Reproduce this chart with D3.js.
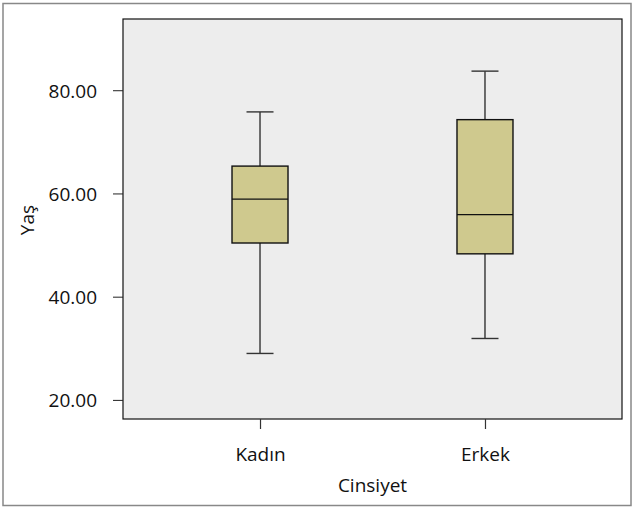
<!DOCTYPE html>
<html><head><meta charset="utf-8">
<script src="https://cdn.jsdelivr.net/npm/d3@7/dist/d3.min.js"></script>
<style>body{margin:0;background:#fff}svg{display:block}text{font-family:"Open Sans","Noto Sans",sans-serif;fill:#111}</style>
</head><body><svg id="c" width="633" height="508"></svg>
<script>
const categories = ["Kadın", "Erkek"];
const mins = [29.0, 31.9];
const q1s = [50.4, 48.3];
const medians = [58.9, 55.9];
const q3s = [65.3, 74.3];
const maxs = [75.8, 83.7];
const yTicks = [20, 40, 60, 80];
const yLabel = "Yaş";
const xLabel = "Cinsiyet";

const svg = d3.select("#c");
const L = 123, R = 622, T = 19, B = 419;
const fs = "19px";
svg.append("rect").attr("x", 3).attr("y", 3.5).attr("width", 628).attr("height", 502)
  .attr("fill", "#fff").attr("stroke", "#888").attr("stroke-width", 1.5);
svg.append("rect").attr("x", L).attr("y", T).attr("width", R - L).attr("height", B - T)
  .attr("fill", "#ededed").attr("stroke", "#111").attr("stroke-width", 1.2);

const y = d3.scaleLinear().domain([16.3, 93.8]).range([B, T]);
const x = d3.scalePoint().domain(categories).range([L, R]).padding(0.609);

const yAxis = svg.append("g").attr("transform", `translate(${L},0)`)
  .call(d3.axisLeft(y).tickValues(yTicks).tickFormat(d3.format(".2f")).tickSize(10).tickPadding(16));
yAxis.select(".domain").remove();
yAxis.selectAll("line").attr("stroke", "#222");
yAxis.selectAll("text").style("font-size", fs).attr("fill", "#111").attr("dy", "0.36em");

const xAxis = svg.append("g").attr("transform", `translate(0,${B})`)
  .call(d3.axisBottom(x).tickSize(10).tickPadding(19));
xAxis.select(".domain").remove();
xAxis.selectAll("line").attr("stroke", "#333").attr("stroke-width", 1.2);
xAxis.selectAll("text").style("font-size", fs).attr("fill", "#111");

const bw = 56, cw = 27;
const g = svg.append("g");
categories.forEach((c, i) => {
  const cx = x(c);
  g.append("line").attr("x1", cx).attr("x2", cx).attr("y1", y(maxs[i])).attr("y2", y(q3s[i]))
    .attr("stroke", "#333").attr("stroke-width", 1.4);
  g.append("line").attr("x1", cx).attr("x2", cx).attr("y1", y(q1s[i])).attr("y2", y(mins[i]))
    .attr("stroke", "#333").attr("stroke-width", 1.4);
  [maxs[i], mins[i]].forEach(v => g.append("line").attr("x1", cx - cw / 2).attr("x2", cx + cw / 2)
    .attr("y1", y(v)).attr("y2", y(v)).attr("stroke", "#333").attr("stroke-width", 1.4));
  g.append("rect").attr("x", cx - bw / 2).attr("width", bw).attr("y", y(q3s[i]))
    .attr("height", y(q1s[i]) - y(q3s[i])).attr("fill", "#cfc98e").attr("stroke", "#111").attr("stroke-width", 1.4);
  g.append("line").attr("x1", cx - bw / 2).attr("x2", cx + bw / 2).attr("y1", y(medians[i])).attr("y2", y(medians[i]))
    .attr("stroke", "#111").attr("stroke-width", 1.4);
});

svg.append("text").attr("x", 372.5).attr("y", 492).attr("text-anchor", "middle")
  .style("font-size", fs).text(xLabel);
svg.append("text").attr("transform", "translate(34,220) rotate(-90)").attr("text-anchor", "middle")
  .style("font-size", fs).text(yLabel);
</script></body></html>
